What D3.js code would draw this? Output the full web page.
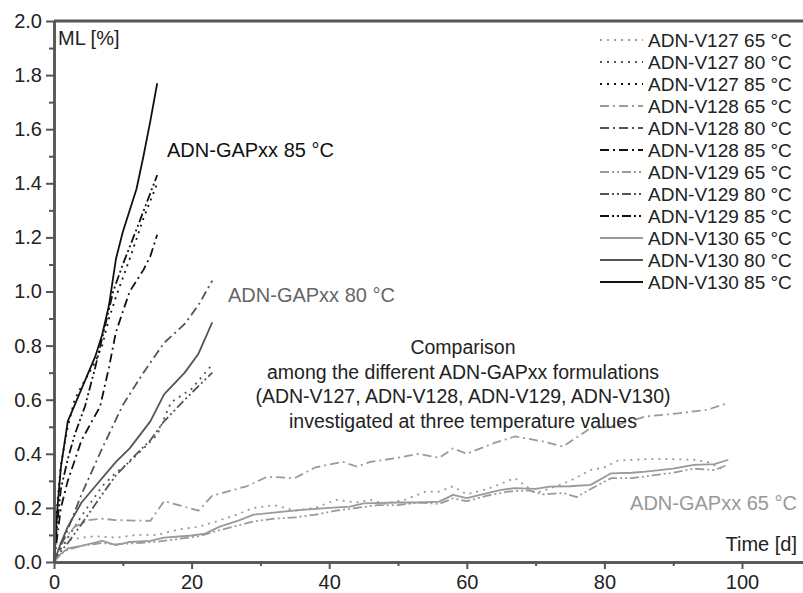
<!DOCTYPE html>
<html>
<head>
<meta charset="utf-8">
<script src="https://cdn.jsdelivr.net/npm/d3@7/dist/d3.min.js"></script>
<style>
  html, body { margin: 0; padding: 0; background: #fff; }
  svg { display: block; }
  text { font-family: "Liberation Sans", Arial, sans-serif; }
</style>
</head>
<body>
<div id="chart"></div>
<script>
// Mass loss (ML, %) of ADN-GAPxx formulations over storage time (days)

// ---- 65 °C series ----
const v127_65 = [[0,0],[1,0.05],[2,0.08],[4,0.09],[6,0.095],[9,0.09],[12,0.1],[15,0.1],[18,0.12],[21,0.13],[23,0.145],[26,0.17],[29,0.2],[32,0.21],[35,0.19],[38,0.2],[41,0.23],[44,0.22],[46,0.23],[48,0.215],[51,0.23],[54,0.26],[56,0.26],[58,0.28],[60,0.25],[63,0.27],[65,0.29],[67,0.31],[70,0.255],[73,0.28],[75,0.3],[78,0.34],[80,0.35],[82,0.375],[86,0.38],[90,0.38],[93,0.378],[95,0.37],[97,0.345]];
const v128_65 = [[0,0],[1,0.07],[3,0.13],[5,0.155],[7,0.16],[9,0.155],[14,0.152],[16,0.225],[21,0.19],[23,0.245],[28,0.28],[31,0.315],[35,0.31],[38,0.35],[42,0.37],[44,0.353],[46,0.37],[50,0.385],[53,0.4],[56,0.385],[58,0.42],[60,0.4],[64,0.44],[67,0.464],[71,0.446],[74,0.427],[78,0.495],[81,0.5],[86,0.538],[91,0.55],[95,0.563],[98,0.588]];
const v129_65 = [[0,0],[1,0.03],[2,0.045],[4,0.06],[7,0.07],[9,0.065],[12,0.07],[15,0.075],[18,0.085],[21,0.095],[23,0.11],[26,0.13],[29,0.15],[32,0.16],[35,0.165],[38,0.175],[41,0.19],[44,0.2],[47,0.21],[50,0.21],[53,0.22],[56,0.215],[58,0.235],[60,0.225],[63,0.245],[66,0.26],[69,0.265],[71,0.25],[74,0.255],[76,0.24],[78,0.27],[81,0.31],[84,0.31],[87,0.32],[90,0.33],[93,0.345],[96,0.34],[98,0.36]];
const v130_65 = [[0,0],[1,0.03],[2,0.05],[4,0.06],[7,0.078],[9,0.062],[11,0.074],[14,0.078],[16,0.09],[20,0.098],[22,0.105],[24,0.13],[27,0.155],[29,0.175],[33,0.185],[36,0.193],[40,0.2],[43,0.205],[45,0.217],[50,0.22],[53,0.22],[56,0.223],[58,0.248],[60,0.236],[63,0.255],[65,0.267],[67,0.273],[70,0.27],[72,0.279],[75,0.28],[78,0.285],[81,0.328],[84,0.33],[86,0.334],[90,0.345],[93,0.359],[96,0.362],[98,0.378]];

// ---- 80 °C series ----
const v127_80 = [[0,0],[1,0.05],[2,0.09],[4,0.17],[7,0.28],[9,0.33],[11,0.37],[13,0.42],[15,0.47],[17,0.59],[20,0.64],[23,0.73]];
const v128_80 = [[0,0],[1,0.06],[2,0.12],[4,0.25],[7,0.42],[10,0.58],[13,0.7],[16,0.81],[19,0.88],[21,0.95],[23,1.04]];
const v129_80 = [[0,0],[1,0.04],[2,0.07],[4,0.14],[7,0.25],[9,0.32],[12,0.4],[14,0.45],[16,0.52],[19,0.6],[21,0.65],[23,0.7]];
const v130_80 = [[0,0],[1,0.07],[2,0.13],[4,0.22],[6,0.28],[9,0.37],[11,0.42],[14,0.52],[16,0.62],[19,0.7],[21,0.77],[23,0.886]];

// ---- 85 °C series ----
const v127_85 = [[0,0],[0.5,0.22],[1,0.36],[2,0.5],[3,0.6],[4,0.65],[6,0.74],[7,0.8],[8,0.9],[9,0.98],[11,1.12],[13,1.27],[15,1.4]];
const v128_85 = [[0,0],[0.5,0.1],[1,0.2],[2,0.3],[4,0.45],[6.7,0.575],[8,0.72],[9,0.85],[11,1.0],[13,1.08],[14,1.13],[15,1.21]];
const v129_85 = [[0,0],[0.5,0.15],[1,0.27],[2,0.38],[3,0.47],[4.5,0.575],[6,0.72],[8.6,1.0],[10,1.1],[12,1.23],[13.5,1.33],[15,1.43]];
const v130_85 = [[0,0],[0.5,0.2],[1,0.35],[2,0.52],[4,0.64],[6,0.76],[7,0.84],[8,0.95],[9,1.12],[10,1.22],[12,1.38],[13,1.5],[14,1.63],[15,1.77]];

// Legend order, labels and drawing styles
const seriesLabels = ["ADN-V127 65 °C","ADN-V127 80 °C","ADN-V127 85 °C","ADN-V128 65 °C","ADN-V128 80 °C","ADN-V128 85 °C","ADN-V129 65 °C","ADN-V129 80 °C","ADN-V129 85 °C","ADN-V130 65 °C","ADN-V130 80 °C","ADN-V130 85 °C"];
const seriesData = [v127_65, v127_80, v127_85, v128_65, v128_80, v128_85, v129_65, v129_80, v129_85, v130_65, v130_80, v130_85];

// Axis ticks
const xTicks = [0, 20, 40, 60, 80, 100];
const xMinorTicks = [10, 30, 50, 70, 90, 110];
const yTicks = [0, 0.2, 0.4, 0.6, 0.8, 1.0, 1.2, 1.4, 1.6, 1.8, 2.0];
const yMinorTicks = [0.1, 0.3, 0.5, 0.7, 0.9, 1.1, 1.3, 1.5, 1.7, 1.9];

const noteLines = ["Comparison", "among the different ADN-GAPxx formulations", "(ADN-V127, ADN-V128, ADN-V129, ADN-V130)", "investigated at three temperature values"];

// styles per formulation (dash) and temperature (colour)
const tempColor = { "65": "#9a9a9a", "80": "#555555", "85": "#111111" };
const formDash = { "V127": "2,5", "V128": "9,4,2,4", "V129": "9,3,2,3,2,3", "V130": null };

const W = 803, H = 593;
const margin = { left: 54, top: 21, bottom: 31 };
const svg = d3.select("#chart").append("svg").attr("width", W).attr("height", H);

const x = d3.scaleLinear().domain([0, 110]).range([margin.left, margin.left + 110 * 6.88]);
const y = d3.scaleLinear().domain([0, 2]).range([H - margin.bottom, margin.top]);

const styleOf = label => {
  const form = label.match(/V\d+/)[0];
  const temp = label.match(/(\d+) °C/)[1];
  return { color: tempColor[temp], dash: formDash[form] };
};

// lines
const line = d3.line().x(d => x(d[0])).y(d => y(d[1]));
const plot = svg.append("g");
seriesData.forEach((data, i) => {
  const s = styleOf(seriesLabels[i]);
  plot.append("path")
    .datum(data)
    .attr("d", line)
    .attr("fill", "none")
    .attr("stroke", s.color)
    .attr("stroke-width", 1.8)
    .attr("stroke-dasharray", s.dash)
    .attr("stroke-linejoin", "round");
});

// axes
const axisColor = "#555";
const gx = svg.append("g").attr("transform", `translate(0,${y(0)})`)
  .call(d3.axisBottom(x).tickValues(xTicks).tickFormat(d3.format("d")).tickSize(7).tickSizeOuter(0));
const gxm = svg.append("g").attr("transform", `translate(0,${y(0)})`)
  .call(d3.axisBottom(x).tickValues(xMinorTicks).tickFormat("").tickSize(4).tickSizeOuter(0));
const gy = svg.append("g").attr("transform", `translate(${x(0)},0)`)
  .call(d3.axisLeft(y).tickValues(yTicks).tickFormat(d3.format(".1f")).tickSize(8).tickSizeOuter(0));
const gym = svg.append("g").attr("transform", `translate(${x(0)},0)`)
  .call(d3.axisLeft(y).tickValues(yMinorTicks).tickFormat("").tickSize(5).tickSizeOuter(0));

[gx, gxm, gy, gym].forEach(g => {
  g.select(".domain").attr("stroke", axisColor).attr("stroke-width", 2.5);
  g.selectAll(".tick line").attr("stroke", axisColor).attr("stroke-width", 2);
  g.selectAll(".tick text").attr("fill", "#222").attr("font-size", 20)
    .attr("font-family", "Liberation Sans, Arial, sans-serif");
});
gx.selectAll(".tick text").attr("dy", "0.85em");
gy.selectAll(".tick text").attr("dx", "-0.05em");

// top frame line
svg.append("line")
  .attr("x1", x(0)).attr("x2", W).attr("y1", y(2)).attr("y2", y(2))
  .attr("stroke", axisColor).attr("stroke-width", 3);

// axis titles
svg.append("text").attr("x", 58).attr("y", 45).attr("font-size", 20).attr("fill", "#222").text("ML [%]");
svg.append("text").attr("x", 797).attr("y", 551).attr("font-size", 20).attr("fill", "#222")
  .attr("text-anchor", "end").text("Time [d]");

// group labels
svg.append("text").attr("x", 167).attr("y", 157).attr("font-size", 20).attr("fill", "#111").text("ADN-GAPxx 85 °C");
svg.append("text").attr("x", 228).attr("y", 302).attr("font-size", 20).attr("fill", "#666").text("ADN-GAPxx 80 °C");
svg.append("text").attr("x", 797).attr("y", 510).attr("font-size", 20).attr("fill", "#999")
  .attr("text-anchor", "end").text("ADN-GAPxx 65 °C");

// note block
svg.append("g").selectAll("text").data(noteLines).join("text")
  .attr("x", 463).attr("y", (d, i) => 354 + i * 24.7)
  .attr("text-anchor", "middle").attr("font-size", 19.5).attr("fill", "#222")
  .text(d => d);

// legend
const legend = svg.append("g");
seriesLabels.forEach((label, i) => {
  const s = styleOf(label);
  const yy = 40 + i * 22;
  legend.append("line").attr("x1", 600).attr("x2", 643).attr("y1", yy).attr("y2", yy)
    .attr("stroke", s.color).attr("stroke-width", 1.8).attr("stroke-dasharray", s.dash);
  legend.append("text").attr("x", 648).attr("y", yy + 7).attr("font-size", 19).attr("fill", "#222").text(label);
});
</script>
</body>
</html>
